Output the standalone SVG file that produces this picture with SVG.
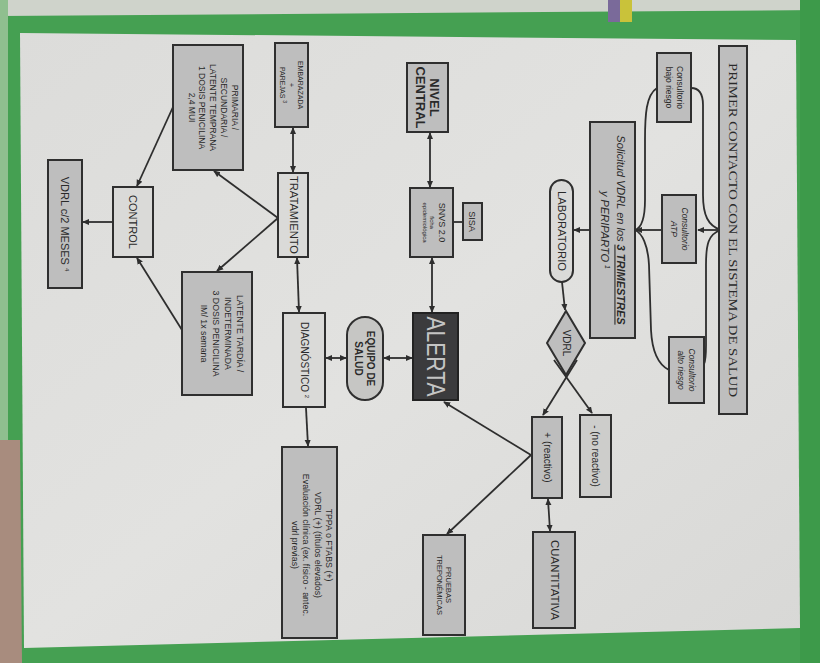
<svg xmlns="http://www.w3.org/2000/svg" width="820" height="663" viewBox="0 0 820 663">
<defs>
<marker id="arr" viewBox="0 0 8 8" refX="7" refY="4" markerWidth="7" markerHeight="7" markerUnits="userSpaceOnUse" orient="auto-start-reverse">
<path d="M0,0.5 L8,4 L0,7.5 z" fill="#2e2e2e"/>
</marker>
<linearGradient id="paper" x1="0" y1="0" x2="1" y2="1">
<stop offset="0" stop-color="#dcdcda"/>
<stop offset="0.5" stop-color="#e2e2e0"/>
<stop offset="1" stop-color="#d8d8d6"/>
</linearGradient>
</defs>
<style>
.box{stroke:#2f2f2f;stroke-width:2;fill:#bebebe}
.lt{stroke:#2f2f2f;stroke-width:2;fill:#dadad8}
.t{font-family:"Liberation Sans",Arial,sans-serif;fill:#2a2a2a;text-anchor:middle}
.c{fill:none;stroke:#2e2e2e;stroke-width:1.8}
</style>
<!-- background -->
<rect x="0" y="0" width="820" height="663" fill="#45a052"/>
<polygon points="0,0 820,0 820,10 0,16" fill="#cfd3cb"/>
<rect x="620" y="0" width="12" height="22" fill="#c9c23a"/>
<rect x="608" y="0" width="12" height="22" fill="#7a6a9a"/>
<rect x="0" y="0" width="8" height="440" fill="#8fbf8f"/>
<polygon points="0,440 20,440 22,663 0,663" fill="#a88c7e"/>
<rect x="800" y="0" width="20" height="663" fill="#3d9a4a"/>
<polygon points="20,33 796,40 800,628 24,648" fill="url(#paper)"/>

<!-- connectors -->
<g id="connectors">
<line class="c" x1="721" y1="230" x2="698" y2="230" marker-end="url(#arr)"/>
<path class="c" d="M721,230 C708,226 703,215 703,195 L703,105 C703,93 698,88 691,88"/>
<path class="c" d="M721,230 C708,234 706,245 706,265 L706,345 C706,356 706,360 704,364"/>
<path class="c" d="M657,88 C646,95 645,115 645,140 L645,200 C645,220 641,228 635,230"/>
<path class="c" d="M669,370 C657,364 652,350 651,330 L649,265 C648,245 642,233 635,230"/>
<line class="c" x1="662" y1="230" x2="636" y2="230" marker-end="url(#arr)"/>
<line class="c" x1="590" y1="230" x2="574" y2="230" marker-end="url(#arr)"/>
<line class="c" x1="562" y1="282" x2="565" y2="310" marker-end="url(#arr)"/>
<line class="c" x1="577" y1="360" x2="543" y2="415" marker-end="url(#arr)"/>
<line class="c" x1="554" y1="360" x2="592" y2="413" marker-end="url(#arr)"/>
<line class="c" x1="548" y1="499" x2="550" y2="531" marker-start="url(#arr)" marker-end="url(#arr)"/>
<line class="c" x1="531" y1="455" x2="444" y2="402" marker-end="url(#arr)"/>
<line class="c" x1="531" y1="455" x2="447" y2="534" marker-end="url(#arr)"/>
<line class="c" x1="432" y1="312" x2="432" y2="258" marker-start="url(#arr)" marker-end="url(#arr)"/>
<line class="c" x1="430" y1="187" x2="430" y2="133" marker-start="url(#arr)" marker-end="url(#arr)"/>
<line class="c" x1="463" y1="222" x2="453" y2="222"/>
<line class="c" x1="412" y1="358" x2="384" y2="358" marker-start="url(#arr)" marker-end="url(#arr)"/>
<line class="c" x1="346" y1="358" x2="326" y2="358" marker-start="url(#arr)" marker-end="url(#arr)"/>
<line class="c" x1="299" y1="312" x2="297" y2="258" marker-start="url(#arr)" marker-end="url(#arr)"/>
<line class="c" x1="293" y1="172" x2="293" y2="128" marker-start="url(#arr)" marker-end="url(#arr)"/>
<line class="c" x1="306" y1="408" x2="308" y2="446" marker-end="url(#arr)"/>
<line class="c" x1="278" y1="218" x2="214" y2="171" marker-end="url(#arr)"/>
<line class="c" x1="278" y1="218" x2="217" y2="271" marker-end="url(#arr)"/>
<line class="c" x1="173" y1="107" x2="137" y2="186" marker-end="url(#arr)"/>
<line class="c" x1="182" y1="330" x2="137" y2="258" marker-end="url(#arr)"/>
<line class="c" x1="113" y1="222" x2="83" y2="222" marker-end="url(#arr)"/>
</g>

<!-- nodes -->
<g id="title">
<rect class="box" x="719" y="46" width="28" height="368"/>
<text transform="translate(733,230) rotate(90)" y="4.5" class="t" style="font-family:'Liberation Serif',serif;font-size:12.5px" textLength="334" lengthAdjust="spacingAndGlyphs">PRIMER CONTACTO CON EL SISTEMA DE SALUD</text>
</g>
<g id="consultorio-bajo">
<rect class="box" x="657" y="53" width="34" height="69"/>
<text transform="translate(674,87.5) rotate(90)" class="t" style="font-size:8.5px"><tspan x="0" y="-2.5">Consultorio</tspan><tspan x="0" y="8.5">bajo riesgo</tspan></text>
</g>
<g id="consultorio-atp">
<rect class="box" x="662" y="195" width="34" height="68"/>
<text transform="translate(679,229) rotate(90)" class="t" style="font-size:8.5px;font-style:italic"><tspan x="0" y="-2.5">Consultorio</tspan><tspan x="0" y="8.5">ATP</tspan></text>
</g>
<g id="consultorio-alto">
<rect class="box" x="669" y="337" width="35" height="66"/>
<text transform="translate(686.5,370) rotate(90)" class="t" style="font-size:8.5px;font-style:italic"><tspan x="0" y="-2.5">Consultorio</tspan><tspan x="0" y="8.5">alto riesgo</tspan></text>
</g>
<g id="solicitud">
<rect class="box" x="590" y="122" width="45" height="216"/>
<text transform="translate(612.5,230) rotate(90)" class="t" style="font-size:11px;font-style:italic"><tspan x="0" y="-4">Solicitud VDRL en los <tspan text-decoration="underline" font-weight="bold">3 TRIMESTRES</tspan></tspan><tspan x="0" y="12">y PERIPARTO <tspan font-size="7" dy="-4">1</tspan></tspan></text>
</g>
<g id="laboratorio">
<rect class="lt" x="550" y="180" width="23" height="102" rx="11.5"/>
<text transform="translate(561.5,231) rotate(90)" y="3.5" class="t" style="font-size:10px" textLength="80" lengthAdjust="spacingAndGlyphs">LABORATORIO</text>
</g>
<g id="vdrl">
<polygon class="box" points="566,311 585,343 566,375 547,343"/>
<text transform="translate(566,343) rotate(90)" y="3.5" class="t" style="font-size:10px">VDRL</text>
</g>
<g id="reactivo">
<rect class="box" x="532" y="417" width="30" height="81"/>
<text transform="translate(547,457.5) rotate(90)" y="3.5" class="t" style="font-size:10px">+  (reactivo)</text>
</g>
<g id="no-reactivo">
<rect class="box" x="580" y="415" width="31" height="82" style="fill:#cdcdcb"/>
<text transform="translate(595.5,456) rotate(90)" y="3.5" class="t" style="font-size:10px">-  (no reactivo)</text>
</g>
<g id="cuantitativa">
<rect class="box" x="533" y="532" width="42" height="96"/>
<text transform="translate(554,580) rotate(90)" y="3.5" class="t" style="font-size:10px" textLength="80" lengthAdjust="spacingAndGlyphs">CUANTITATIVA</text>
</g>
<g id="pruebas">
<rect class="box" x="423" y="535" width="42" height="100"/>
<text transform="translate(444,585) rotate(90)" class="t" style="font-size:7.5px"><tspan x="0" y="-2">PRUEBAS</tspan><tspan x="0" y="7">TREPONÉMICAS</tspan></text>
</g>
<g id="alerta">
<rect x="413" y="313" width="45" height="87" style="fill:#3b3b3d;stroke:#222;stroke-width:2"/>
<text transform="translate(435.5,356.5) rotate(90)" y="9" class="t" style="font-size:26px;fill:#c4c4c4" textLength="80" lengthAdjust="spacingAndGlyphs">ALERTA</text>
</g>
<g id="equipo">
<rect class="box" x="347" y="317" width="36" height="83" rx="18" style="fill:#c6c6c4"/>
<text transform="translate(365,358.5) rotate(90)" class="t" style="font-size:10px;font-weight:bold"><tspan x="0" y="-2">EQUIPO DE</tspan><tspan x="0" y="10">SALUD</tspan></text>
</g>
<g id="diagnostico">
<rect class="lt" x="283" y="313" width="42" height="94"/>
<text transform="translate(304,360) rotate(90)" y="3.5" class="t" style="font-size:10px">DIAGNÓSTICO <tspan font-size="6" dy="-4">2</tspan></text>
</g>
<g id="tppa">
<rect class="box" x="282" y="447" width="55" height="191"/>
<text transform="translate(312,545) rotate(90)" class="t" style="font-size:8.8px"><tspan x="0" y="-14">TPPA o FTABS (+)</tspan><tspan x="0" y="-2.7">VDRL (+) (títulos elevados)</tspan><tspan x="0" y="8.6">Evaluación clínica (ex. físico - antec.</tspan><tspan x="0" y="19.9">vdrl previas)</tspan></text>
</g>
<g id="tratamiento">
<rect class="lt" x="278" y="173" width="30" height="84"/>
<text transform="translate(293,215) rotate(90)" y="3.5" class="t" style="font-size:10px" textLength="78" lengthAdjust="spacingAndGlyphs">TRATAMIENTO</text>
</g>
<g id="embarazada">
<rect class="box" x="275" y="43" width="33" height="84"/>
<text transform="translate(291.5,85) rotate(90)" class="t" style="font-size:7px"><tspan x="0" y="-6.5">EMBARAZADA</tspan><tspan x="0" y="2.5">+</tspan><tspan x="0" y="11.5">PAREJAS <tspan font-size="5" dy="-3">3</tspan></tspan></text>
</g>
<g id="primaria">
<rect class="box" x="173" y="45" width="70" height="125"/>
<text transform="translate(213,107.5) rotate(90)" class="t" style="font-size:8.5px"><tspan x="0" y="-18.5">PRIMARIA /</tspan><tspan x="0" y="-7.8">SECUNDARIA /</tspan><tspan x="0" y="2.9">LATENTE TEMPRANA</tspan><tspan x="0" y="13.6">1 DOSIS PENICILINA</tspan><tspan x="0" y="24.3">2,4 MUI</tspan></text>
</g>
<g id="latente">
<rect class="box" x="182" y="272" width="70" height="123"/>
<text transform="translate(222,333.5) rotate(90)" class="t" style="font-size:8.8px"><tspan x="0" y="-15">LATENTE TARDÍA /</tspan><tspan x="0" y="-3">INDETERMINADA</tspan><tspan x="0" y="9">3 DOSIS PENICILINA</tspan><tspan x="0" y="21">IM/ 1x semana</tspan></text>
</g>
<g id="control">
<rect class="lt" x="113" y="187" width="40" height="70"/>
<text transform="translate(133,222) rotate(90)" y="4" class="t" style="font-size:11px">CONTROL</text>
</g>
<g id="vdrl-2meses">
<rect class="box" x="48" y="160" width="34" height="128"/>
<text transform="translate(65,224) rotate(90)" y="4" class="t" style="font-size:11px">VDRL c/2 MESES <tspan font-size="6" dy="-4">4</tspan></text>
</g>
<g id="snvs">
<rect class="box" x="410" y="188" width="43" height="69"/>
<text transform="translate(431.5,222.5) rotate(90)" class="t"><tspan x="0" y="-7" style="font-size:9px">SNVS 2.0</tspan><tspan x="0" y="2" style="font-size:6px">ficha</tspan><tspan x="0" y="9" style="font-size:6px">epidemiológica</tspan></text>
</g>
<g id="sisa">
<rect class="box" x="463" y="203" width="19" height="37"/>
<text transform="translate(472.5,221.5) rotate(90)" y="3.2" class="t" style="font-size:9px">SISA</text>
</g>
<g id="nivel-central">
<rect class="box" x="407" y="63" width="41" height="69"/>
<text transform="translate(427.5,97.5) rotate(90)" class="t" style="font-size:13px;font-weight:bold"><tspan x="0" y="-2">NIVEL</tspan><tspan x="0" y="12">CENTRAL</tspan></text>
</g>
</svg>
